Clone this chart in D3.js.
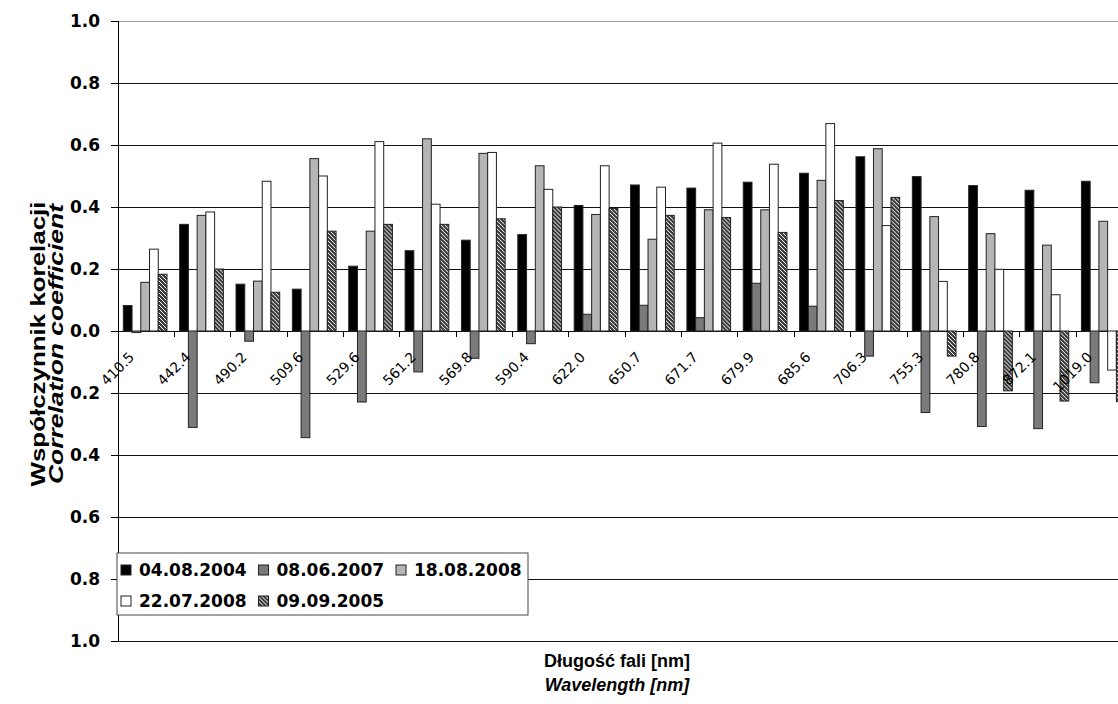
<!DOCTYPE html>
<meta charset="UTF-8">
<style>
body { margin: 0; background: #fff; }
svg { display: block; }
.ytick text { font: bold 17px "DejaVu Sans", sans-serif; }
.cat { font: 14px "DejaVu Sans", sans-serif; }
.legend text { font: bold 17px "DejaVu Sans", sans-serif; }
.title { font: bold 18px "Liberation Sans", Arial, sans-serif; }
.ytitle { font: bold 20px "Liberation Sans", Arial, sans-serif; }
</style>
<body>
<script src="https://d3js.org/d3.v7.min.js"></script>
<script>

// categories (wavelength, nm)
var wavelengths = ["410.5", "442.4", "490.2", "509.6", "529.6", "561.2", "569.8", "590.4", "622.0",
                   "650.7", "671.7", "679.9", "685.6", "706.3", "755.3", "780.8", "872.1", "1019.0"];

// series, in the order the bars are drawn in each group
var seriesNames = ["04.08.2004", "08.06.2007", "18.08.2008", "22.07.2008", "09.09.2005"];

var s2004 = [0.082, 0.344, 0.151, 0.135, 0.209, 0.259, 0.293, 0.311, 0.405,
             0.471, 0.461, 0.480, 0.509, 0.562, 0.498, 0.469, 0.454, 0.483];
var s2007 = [-0.005, -0.311, -0.033, -0.344, -0.229, -0.132, -0.088, -0.041, 0.054,
             0.083, 0.043, 0.154, 0.080, -0.081, -0.263, -0.308, -0.315, -0.167];
var s2008a = [0.157, 0.373, 0.161, 0.556, 0.322, 0.620, 0.573, 0.533, 0.376,
              0.296, 0.391, 0.391, 0.486, 0.588, 0.369, 0.314, 0.277, 0.354];
var s2008b = [0.264, 0.384, 0.483, 0.500, 0.611, 0.409, 0.576, 0.457, 0.533,
              0.464, 0.606, 0.538, 0.669, 0.340, 0.160, 0.199, 0.117, -0.126];
var s2005 = [0.183, 0.200, 0.125, 0.322, 0.344, 0.344, 0.362, 0.400, 0.395,
             0.373, 0.366, 0.318, 0.421, 0.431, -0.081, -0.193, -0.226, -0.228];

var seriesValues = [s2004, s2007, s2008a, s2008b, s2005];
var yTicks = [-1, -0.8, -0.6, -0.4, -0.2, 0, 0.2, 0.4, 0.6, 0.8, 1];

var W = 1118, H = 704;
var plotLeft = 118, catW = 56.36, plotTop = 21, plotBottom = 641;

var svg = d3.select("body").append("svg")
    .attr("width", W)
    .attr("height", H);

// hatch pattern for the 09.09.2005 series
var defs = svg.append("defs");
var pat = defs.append("pattern")
    .attr("id", "hatch")
    .attr("patternUnits", "userSpaceOnUse")
    .attr("width", 4).attr("height", 4);
pat.append("rect").attr("width", 4).attr("height", 4).attr("fill", "#3c3c3c");
pat.append("path")
    .attr("d", "M-1,-1 L5,5 M3,-1 L5,1 M-1,3 L1,5")
    .attr("stroke", "#fff").attr("stroke-width", 1);

var fills = ["#000", "#7a7a7a", "#b5b5b5", "#fff", "url(#hatch)"];

var x = d3.scaleBand()
    .domain(wavelengths)
    .range([plotLeft, plotLeft + catW * wavelengths.length]);

var x1 = d3.scaleBand()
    .domain(seriesNames)
    .range([5.3, 49]);

var y = d3.scaleLinear()
    .domain([-1, 1])
    .range([plotBottom, plotTop]);

// gridlines
svg.append("g")
    .attr("transform", "translate(" + plotLeft + ",0)")
    .call(d3.axisLeft(y).tickValues(yTicks).tickSize(-(W - plotLeft)).tickFormat(""))
    .call(function(g) {
      g.select(".domain").remove();
      g.selectAll("line").attr("stroke", "#111").attr("shape-rendering", "crispEdges");
      g.selectAll(".tick").filter(function(d) { return d === 1; })
        .select("line").attr("stroke", "#999");
    });

// bars
var groups = svg.append("g").selectAll("g")
    .data(wavelengths)
    .join("g")
    .attr("transform", function(d) { return "translate(" + x(d) + ",0)"; });

groups.selectAll("rect")
    .data(function(d, i) {
      return seriesNames.map(function(s, k) { return {s: s, k: k, v: seriesValues[k][i]}; });
    })
    .join("rect")
    .attr("x", function(d) { return x1(d.s); })
    .attr("width", x1.bandwidth())
    .attr("y", function(d) { return y(Math.max(0, d.v)); })
    .attr("height", function(d) { return Math.max(1, Math.abs(y(d.v) - y(0))); })
    .attr("fill", function(d) { return fills[d.k]; })
    .attr("stroke", "#222")
    .attr("stroke-width", 1);

// y axis with labels (magnitudes only, as in the original)
svg.append("g")
    .attr("class", "ytick")
    .attr("transform", "translate(" + plotLeft + ",0)")
    .call(d3.axisLeft(y).tickValues(yTicks).tickSize(7).tickPadding(11)
      .tickFormat(function(d) { return d3.format(".1f")(Math.abs(d)); }))
    .call(function(g) {
      g.select(".domain").attr("stroke", "#000").attr("shape-rendering", "crispEdges");
      g.selectAll("line").attr("stroke", "#000").attr("shape-rendering", "crispEdges");
      g.selectAll("text").attr("fill", "#000");
    });

// category boundary ticks below zero line
svg.append("g").selectAll("line")
    .data(wavelengths.slice(1))
    .join("line")
    .attr("x1", function(d) { return x(d); })
    .attr("x2", function(d) { return x(d); })
    .attr("y1", y(0))
    .attr("y2", y(0) + 6)
    .attr("stroke", "#000")
    .attr("shape-rendering", "crispEdges");

// rotated category labels
svg.append("g").selectAll("text")
    .data(wavelengths)
    .join("text")
    .attr("class", "cat")
    .attr("text-anchor", "end")
    .attr("transform", function(d) {
      return "translate(" + (x(d) + x.bandwidth() / 2 - 11) + "," + (y(0) + 27) + ") rotate(-45)";
    })
    .text(function(d) { return d; });

// legend
var legend = svg.append("g").attr("class", "legend");
legend.append("rect")
    .attr("x", 117).attr("y", 553)
    .attr("width", 411).attr("height", 62)
    .attr("fill", "#fff").attr("stroke", "#444");

var items = legend.selectAll("g.item")
    .data(seriesNames)
    .join("g")
    .attr("class", "item")
    .attr("transform", function(d, i) {
      return "translate(" + (121 + (i % 3) * 137.5) + "," + (i < 3 ? 570 : 601) + ")";
    });
items.append("rect")
    .attr("x", 0).attr("y", -5)
    .attr("width", 10).attr("height", 10)
    .attr("fill", function(d, i) { return fills[i]; })
    .attr("stroke", "#222");
items.append("text")
    .attr("x", 18).attr("dy", "0.36em")
    .text(function(d) { return d; });

// axis titles
svg.append("text").attr("class", "title")
    .attr("x", 617).attr("y", 667).attr("text-anchor", "middle")
    .text("Długość fali [nm]");
svg.append("text").attr("class", "title")
    .attr("x", 617).attr("y", 691).attr("text-anchor", "middle")
    .style("font-style", "italic")
    .text("Wavelength [nm]");

svg.append("text").attr("class", "ytitle")
    .attr("transform", "translate(45,344) rotate(-90)")
    .attr("text-anchor", "middle")
    .attr("textLength", 285).attr("lengthAdjust", "spacingAndGlyphs")
    .text("Współczynnik korelacji");
svg.append("text").attr("class", "ytitle")
    .attr("transform", "translate(63,344) rotate(-90)")
    .attr("text-anchor", "middle")
    .attr("textLength", 280).attr("lengthAdjust", "spacingAndGlyphs")
    .style("font-style", "italic")
    .text("Correlation coefficient");

</script>
</body>
